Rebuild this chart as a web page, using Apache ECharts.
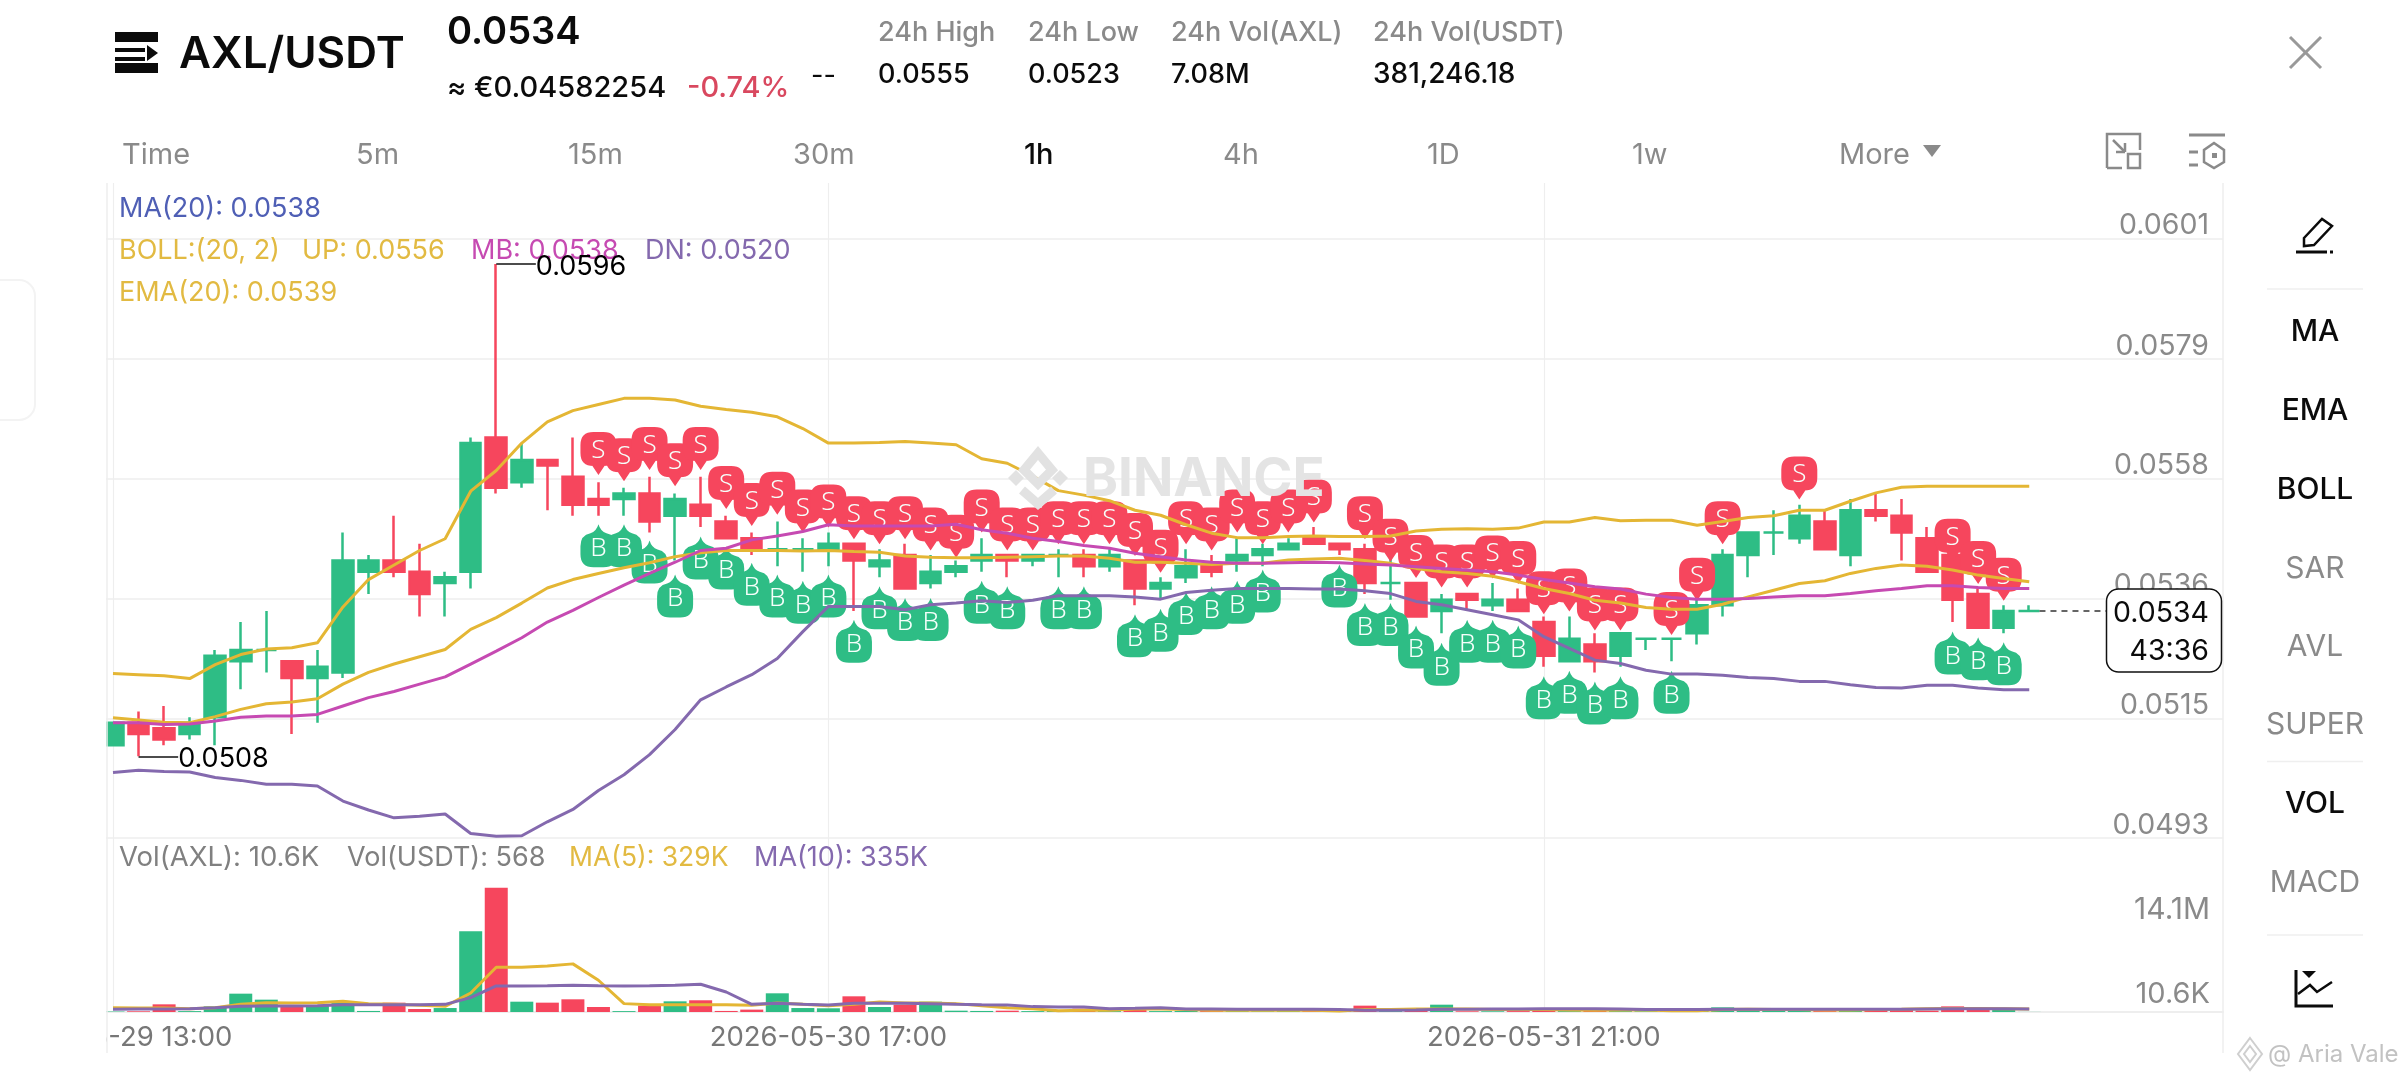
<!DOCTYPE html>
<html><head><meta charset="utf-8">
<style>html,body{margin:0;padding:0;background:#fff}#c{width:2400px;height:1080px}</style>
<script src="https://cdn.jsdelivr.net/npm/echarts@6/dist/echarts.min.js"></script>
</head><body><div id="c"></div>
<script>
const timeTicks=[0,28,56];
const timeLabels=['2026-05-29 13:00','2026-05-30 17:00','2026-05-31 21:00'];
const priceTicks=[0.04934,0.05148,0.05362,0.05576,0.05790,0.06006];
const volTicks=[0.0106,14.1];
const opens=[.0510,.0514,.0513,.0512,.0515,.0525,.0527,.0525,.0522,.0523,
.0541,.0543,.0541,.0539,.0541,.0565,.0557,.0561,.0558,.0554,
.0554,.0555,.0551,.0553,.0550,.0547,.0545,.0545,.0545,.0546,
.0542,.0544,.0539,.0541,.0543,.0544,.0543,.0544,.0544,.0542,
.0543,.0538,.0540,.0542,.0543,.0544,.0545,.0547,.0546,.0545,
.0539,.0539,.0534,.0537,.0535,.0536,.0532,.0525,.0528,.0526,
.0529,.0529,.0530,.0535,.0544,.0548,.0547,.0550,.0544,.0552,
.0551,.0547,.0544,.0537,.0531,.0534];
const closes=[.0514,.0512,.0511,.0514,.0526,.0527,.0527,.0522,.0524,.0543,
.0543,.0541,.0537,.0540,.0564,.0556,.0561,.0560,.0553,.0553,
.0555,.0550,.0554,.0551,.0547,.0545,.0545,.0545,.0546,.0543,
.0543,.0538,.0541,.0542,.0544,.0543,.0544,.0544,.0542,.0544,
.0538,.0539,.0542,.0541,.0544,.0545,.0546,.0546,.0545,.0539,
.0539,.0533,.0536,.0536,.0536,.0534,.0526,.0529,.0525,.0530,
.0529,.0529,.0535,.0544,.0548,.0548,.0551,.0545,.0552,.0551,
.0548,.0541,.0536,.0531,.0534,.0534];
const lows=[.0510,.0508,.0510,.0511,.0510,.0520,.0523,.0512,.0514,.0522,
.0537,.0540,.0533,.0533,.0538,.0555,.0556,.0552,.0551,.0551,
.0551,.0548,.0543,.0549,.0547,.0544,.0542,.0541,.0542,.0534,
.0540,.0538,.0538,.0540,.0541,.0540,.0542,.0540,.0540,.0541,
.0535,.0536,.0539,.0540,.0541,.0542,.0545,.0546,.0544,.0537,
.0536,.0533,.0530,.0534,.0534,.0534,.0524,.0525,.0523,.0524,
.0527,.0525,.0528,.0533,.0540,.0544,.0546,.0545,.0542,.0550,
.0543,.0541,.0532,.0531,.0530,.0534];
const highs=[.0514,.0516,.0517,.0515,.0527,.0532,.0534,.0525,.0527,.0548,
.0544,.0551,.0546,.0541,.0565,.0596,.0564,.0561,.0565,.0557,
.0556,.0558,.0555,.0558,.0551,.0548,.0550,.0547,.0548,.0546,
.0545,.0546,.0544,.0543,.0547,.0544,.0544,.0545,.0545,.0545,
.0543,.0540,.0545,.0544,.0547,.0546,.0547,.0549,.0546,.0546,
.0544,.0539,.0537,.0537,.0539,.0538,.0533,.0533,.0530,.0530,
.0529,.0529,.0537,.0545,.0548,.0552,.0553,.0552,.0554,.0555,
.0554,.0549,.0547,.0538,.0535,.0535];
const bollUp=[.05228,.05226,.05224,.05219,.05244,.05262,.05272,.05274,.05283,.05347,
.05396,.05422,.05448,.05469,.05554,.05591,.05640,.05678,.05698,.05709,
.05720,.05720,.05717,.05706,.05700,.05695,.05687,.05666,.05640,.05640,
.05641,.05643,.05640,.05637,.05612,.05604,.05581,.05555,.05547,.05537,
.05520,.05511,.05494,.05479,.05471,.05471,.05473,.05474,.05473,.05473,
.05474,.05483,.05486,.05487,.05486,.05488,.05499,.05499,.05507,.05501,
.05502,.05502,.05493,.05500,.05507,.05510,.05520,.05520,.05536,.05551,
.05561,.05563,.05563,.05563,.05563,.05563];
const ema20=[.05149,.05145,.05141,.05140,.05151,.05164,.05174,.05177,.05183,.05209,
.05230,.05245,.05258,.05271,.05307,.05328,.05354,.05381,.05396,.05407,
.05417,.05426,.05437,.05444,.05448,.05448,.05448,.05447,.05448,.05446,
.05445,.05438,.05436,.05435,.05435,.05436,.05437,.05438,.05438,.05434,
.05427,.05427,.05425,.05423,.05425,.05425,.05431,.05433,.05434,.05430,
.05425,.05416,.05410,.05407,.05402,.05392,.05380,.05371,.05359,.05354,
.05346,.05343,.05343,.05352,.05365,.05377,.05389,.05394,.05407,.05416,
.05422,.05420,.05413,.05404,.05398,.05392];
const bollMb=[.05140,.05140,.05137,.05138,.05143,.05150,.05152,.05152,.05155,.05170,
.05185,.05196,.05209,.05222,.05245,.05268,.05292,.05320,.05341,.05364,
.05386,.05407,.05427,.05448,.05452,.05467,.05474,.05482,.05494,.05492,
.05492,.05492,.05492,.05495,.05485,.05479,.05470,.05464,.05457,.05452,
.05443,.05437,.05431,.05427,.05425,.05425,.05426,.05427,.05426,.05424,
.05422,.05419,.05416,.05413,.05410,.05404,.05396,.05390,.05383,.05379,
.05370,.05364,.05361,.05361,.05362,.05365,.05367,.05367,.05371,.05376,
.05380,.05385,.05385,.05382,.05380,.05380];
const bollDn=[.05051,.05055,.05053,.05052,.05042,.05037,.05030,.05030,.05027,.05000,
.04984,.04970,.04973,.04977,.04942,.04937,.04938,.04963,.04985,.05019,
.05047,.05083,.05128,.05181,.05204,.05226,.05255,.05303,.05348,.05348,
.05348,.05342,.05351,.05354,.05358,.05355,.05359,.05367,.05367,.05367,
.05365,.05361,.05373,.05377,.05380,.05380,.05380,.05379,.05379,.05376,
.05371,.05357,.05351,.05342,.05333,.05324,.05294,.05273,.05252,.05246,
.05234,.05227,.05227,.05225,.05221,.05219,.05214,.05214,.05208,.05203,
.05202,.05207,.05207,.05202,.05199,.05199];
const volumes=[.05,.08,.87,.10,.64,2.08,1.40,.76,.76,1.14,
.12,1.06,.34,.45,9.17,14.1,1.17,1.06,1.44,.57,
.10,.72,1.21,1.33,.12,.27,2.12,.45,.42,1.78,
.57,.83,1.17,.15,.12,.15,.10,.12,.38,.10,
.57,.10,.12,.10,.10,.08,.10,.10,.10,.72,
.10,.15,.83,.08,.08,.10,.34,.10,.19,.10,
.08,.08,.10,.53,.15,.19,.19,.10,.34,.34,
.34,.15,.64,.45,.34,.0106];
const volMa5=[.49,.45,.45,.38,.49,.87,1.06,1.02,1.06,1.21,
.95,.87,.76,.64,2.16,5.08,5.08,5.23,5.46,3.60,
.95,.83,.83,.83,.83,.76,1.02,.87,.72,.87,
1.14,1.02,1.02,.95,.72,.49,.38,.15,.19,.19,
.34,.34,.27,.19,.19,.19,.19,.19,.11,.27,
.27,.34,.34,.34,.27,.27,.27,.23,.19,.23,
.23,.15,.15,.27,.30,.27,.27,.23,.23,.27,
.30,.38,.41,.41,.38,.33];
const volMa10=[.30,.34,.34,.38,.49,.64,.68,.68,.72,.83,
.83,.83,.83,.87,1.63,2.96,2.96,2.99,3.03,2.99,
2.96,2.99,3.03,3.15,2.27,.87,.99,.87,.80,.99,
.99,.99,.95,.87,.83,.80,.61,.57,.57,.38,
.42,.49,.34,.34,.30,.30,.30,.30,.27,.19,
.19,.23,.30,.30,.34,.34,.38,.38,.38,.34,
.27,.27,.27,.30,.30,.30,.30,.30,.30,.30,
.30,.34,.38,.38,.38,.335];
const sellIdx=[19,20,21,22,23,24,25,26,27,28,29,30,31,32,33,34,35,36,37,38,39,40,41,42,43,44,45,46,47,49,50,51,52,53,54,55,56,57,58,59,61,62,63,66,72,73,74];
const sellAt=[.05583,.05572,.05592,.05563,.05592,.05522,.05492,.05512,.05480,.05489,.05468,.05459,.05468,.05448,.05435,.05480,.05448,.05448,.05459,.05459,.05459,.05438,.05408,.05459,.05448,.05480,.05459,.05480,.05498,.05468,.05428,.05399,.05382,.05382,.05398,.05388,.05334,.05339,.05305,.05305,.05297,.05358,.05459,.05539,.05428,.05388,.05358];
const buyIdx=[19,20,21,22,23,24,25,26,27,28,29,30,31,32,34,35,37,38,40,41,42,43,44,45,48,49,50,51,52,53,54,55,56,57,58,59,61,72,73,74];
const buyAt=[.05495,.05495,.05466,.05405,.05473,.05455,.05426,.05405,.05394,.05405,.05324,.05384,.05363,.05363,.05394,.05384,.05384,.05384,.05334,.05344,.05374,.05384,.05394,.05414,.05423,.05354,.05354,.05314,.05283,.05324,.05324,.05314,.05223,.05233,.05214,.05223,.05233,.05303,.05293,.05284];
const lastPrice=0.0534, highPrice=0.0596, lowPrice=0.0508, highIdx=15, lowIdx=1;

const GREEN='#2EBD85',RED='#F6465D',YEL='#E4B634',LEG='#E2BA42',MAG='#C64AB2',PUR='#8469AE',GRID='#EEEEEE';
const FONT='Inter, "Liberation Sans", sans-serif';
const pair=a=>a.map((v,i)=>[i,v]);
const xMin=(106-113)/25.55, xMax=(2223-113)/25.55;
const SPIN='path://M13 0H23Q36 0 36 13V21Q36 34 23 34H24L18 43L12 34H13Q0 34 0 21V13Q0 0 13 0Z';
const BPIN='path://M18 0Q20 7 26 9Q36 11 36 22V30Q36 43 23 43H13Q0 43 0 30V22Q0 11 10 9Q16 7 18 0Z';

function T(x,y,text,size,fill,o={}){return {type:'text',z:o.z||50,style:{x,y,text,fill,
  font:(o.w||400)+' '+size+'px '+FONT,textAlign:o.a||'left',textVerticalAlign:'middle',align:o.a||'left',verticalAlign:'middle'}};}
function L(x1,y1,x2,y2,c,w,z){return {type:'line',z:z||50,shape:{x1,y1,x2,y2},style:{stroke:c,lineWidth:w}};}
function R(x,y,w,h,c,z){return {type:'rect',z:z||50,shape:{x,y,width:w,height:h},style:{fill:c}};}
function P(pts,o){return {type:o.closed?'polygon':'polyline',z:o.z||50,shape:{points:pts},style:{stroke:o.s||null,fill:o.f||null,lineWidth:o.w||2.5}};}
const G='#8A8A8A',K='#0B0B0B';
const gfx=[
 // header
 R(115,32,43,10,K),R(115,63,43,10,K),R(115,48,30,4,K),R(115,57,30,4,K),P([[147,45],[158,53],[147,61]],{closed:true,f:K,w:0}),
 T(179,55,'AXL/USDT',44,K,{w:600}),
 T(447,33,'0.0534',38,K,{w:600}),
 T(447,88,'≈ €0.04582254',29,K,{w:500}),
 T(687,88,'-0.74%',29,'#D9485F',{w:500}),
 T(811,76,'--',27,K),
 T(878,33,'24h High',27,G,{w:500}),T(878,75,'0.0555',27,K,{w:500}),
 T(1028,33,'24h Low',27,G,{w:500}),T(1028,75,'0.0523',27,K,{w:500}),
 T(1171,33,'24h Vol(AXL)',27,G,{w:500}),T(1171,75,'7.08M',27,K,{w:500}),
 T(1373,33,'24h Vol(USDT)',27,G,{w:500}),T(1373,75,'381,246.18',28,K,{w:500}),
 L(2290,37,2321,68,'#999',3),L(2321,37,2290,68,'#999',3),
 // tabs
 T(122,155,'Time',29,G),T(356,155,'5m',29,G),T(568,155,'15m',29,G),T(793,155,'30m',29,G),
 T(1024,155,'1h',29,K,{w:500}),T(1223,155,'4h',29,G),T(1427,155,'1D',29,G),T(1632,155,'1w',29,G),T(1839,155,'More',29,G),
 P([[1923,145],[1941,145],[1932,157]],{closed:true,f:G,w:0}),
 // tool icons
 P([[2107,168],[2107,134],[2140,134],[2140,150]],{s:G,w:2.5}),P([[2107,168],[2122,168]],{s:G}),
 {type:'rect',z:50,shape:{x:2128,y:154,width:12,height:14},style:{stroke:G,fill:null,lineWidth:2.5}},
 L(2113,140,2125,152,G,2.5),L(2125,152,2125,143,G,2.5),L(2125,152,2116,152,G,2.5),
 L(2189,135,2225,135,G,3),L(2189,152,2198,152,G,3),L(2189,165,2198,165,G,3),
 P([[2214,143],[2224,150],[2224,162],[2214,168],[2204,162],[2204,150]],{closed:true,s:G}),R(2212,153,5,5,G),
 // legends
 T(119,209,'MA(20): 0.0538',27,'#4F5FB5'),
 T(119,251,'BOLL:(20, 2)',27,LEG),T(302,251,'UP: 0.0556',27,LEG),T(471,251,'MB: 0.0538',27,MAG,{z:1}),T(645,251,'DN: 0.0520',27,PUR),
 T(119,293,'EMA(20): 0.0539',27,LEG),
 T(119,858,'Vol(AXL): 10.6K',27.5,'#808080'),T(347,858,'Vol(USDT): 568',27,'#808080'),T(569,858,'MA(5): 329K',26.5,LEG),T(754,858,'MA(10): 335K',27,PUR),
 // watermark
 P([[1038,453],[1052,470],[1038,484],[1024,470]],{closed:true,s:'#E2E2E2',w:9,z:0}),
 P([[1008,478],[1016,470],[1024,478],[1016,486]],{closed:true,f:'#E2E2E2',w:0,z:0}),
 P([[1052,478],[1060,470],[1068,478],[1060,486]],{closed:true,f:'#E2E2E2',w:0,z:0}),
 P([[1022,490],[1038,504],[1054,490]],{s:'#E2E2E2',w:9,z:0}),
 T(1083,480,'BINANCE',53,'#E4E4E4',{w:700,z:0}),
 // borders and left clip
 R(0,1015,106,45,'#fff',40),R(88,183,18,850,'#fff',40),
 L(107,183,107,1053,GRID,1.5,41),L(2223,183,2223,1053,GRID,1.5,41),
 {type:'rect',z:1,shape:{x:-30,y:280,width:65,height:140,r:16},style:{stroke:'#F3F3F3',fill:null,lineWidth:2}},
 // price box
 {type:'rect',z:45,shape:{x:2106.5,y:589,width:115,height:83,r:12},style:{fill:'#fff',stroke:'#111',lineWidth:1.5}},
 T(2209,613,'0.0534',28.5,K,{a:'right'}),T(2209,651,'43:36',28.5,K,{a:'right'}),
 // side bar
 P([[2304,238],[2322,219],[2332,226],[2314,245],[2304,246]],{closed:true,s:K}),L(2296,252,2327,252,K,3),L(2330,252,2333,252,K,3),
 L(2267,289,2363,289,'#EFEFEF',1.5),L(2267,761.5,2363,761.5,'#EFEFEF',1.5),L(2267,935,2363,935,'#EFEFEF',1.5),
 T(2315,332,'MA',30,K,{a:'center',w:500}),T(2315,411,'EMA',30,K,{a:'center',w:500}),T(2315,490,'BOLL',30,K,{a:'center',w:500}),
 T(2315,569,'SAR',30,G,{a:'center'}),T(2315,647,'AVL',30,G,{a:'center'}),T(2315,725,'SUPER',30,G,{a:'center'}),
 T(2315,804,'VOL',30,K,{a:'center',w:500}),T(2315,883,'MACD',30,G,{a:'center'}),
 P([[2296,970],[2296,1006],[2333,1006]],{s:K,w:3}),P([[2298,994],[2310,985],[2317,992],[2332,982]],{s:K,w:2.5}),P([[2302,971],[2316,971],[2309,978]],{closed:true,f:K,w:0}),
 // credit
 P([[2250,1038],[2262,1054],[2250,1070],[2238,1054]],{closed:true,s:'#CFCFCF',w:2}),
 P([[2250,1046],[2256,1054],[2250,1062],[2244,1054]],{closed:true,s:'#CFCFCF',w:2}),
 T(2268,1055,'@ Aria Vale',24,'#C2C2C2')
];
function flag(idx,at,pin,off,color,ch,dy){return {type:'scatter',xAxisIndex:0,yAxisIndex:0,z:3,animation:false,silent:true,
  data:idx.map((k,i)=>[k,at[i]]),symbol:pin,symbolSize:[36,43],symbolOffset:[0,off],
  itemStyle:{color,opacity:1},label:{show:true,position:'inside',offset:[0,dy],formatter:ch,color:'#F6FFFB',fontFamily:'"Noto Sans", sans-serif',fontWeight:300,fontSize:26},
  clip:false};}
function line(name,a,c,xi,w,z){return {type:'line',name,xAxisIndex:xi,yAxisIndex:xi,data:pair(a),showSymbol:false,symbol:'none',z:z||4,animation:false,silent:true,lineStyle:{color:c,width:w||3}};}
const mark=(i,v,dx,txt)=>[{coord:[i,v],lineStyle:{color:'#111',width:1.5,type:'solid'},label:{show:!!txt,position:'end',formatter:txt||'',distance:0,offset:[0,3],color:'#000',fontFamily:FONT,fontSize:27}},{coord:[i+dx,v]}];
const chart=echarts.init(document.getElementById('c'),null,{renderer:'canvas'});
const xCommon={type:'value',min:xMin,max:xMax,axisTick:{show:false,customValues:timeTicks},splitLine:{show:true,lineStyle:{color:GRID,width:1.2}}};
chart.setOption({
 animation:false,backgroundColor:'#fff',textStyle:{fontFamily:FONT},
 grid:[{left:106,top:183,width:2117,height:655,outerBoundsMode:'none'},{left:106,top:838,width:2117,height:174,outerBoundsMode:'none'}],
 xAxis:[
  Object.assign({},xCommon,{gridIndex:0,axisLine:{show:false},axisLabel:{show:false,customValues:timeTicks}}),
  Object.assign({},xCommon,{gridIndex:1,axisLine:{show:true,onZero:false,lineStyle:{color:GRID,width:2}},
    axisLabel:{show:true,customValues:timeTicks,margin:12,color:'#777',fontSize:27.5,fontFamily:FONT,hideOverlap:false,
      formatter:v=>timeLabels[timeTicks.indexOf(Math.round(v))]||''}})
 ],
 yAxis:[
  {type:'value',gridIndex:0,position:'right',min:priceTicks[0],max:0.06105,axisLine:{show:false},
   axisTick:{show:false,customValues:priceTicks},splitLine:{show:true,lineStyle:{color:GRID,width:1.5}},
   axisLabel:{inside:true,verticalAlign:'bottom',margin:14,lineHeight:26,customValues:priceTicks,color:G,fontSize:28.5,fontFamily:FONT,formatter:v=>v.toFixed(4)}},
  {type:'value',gridIndex:1,position:'right',min:0,max:19.74,axisLine:{show:false},
   axisTick:{show:false,customValues:volTicks},splitLine:{show:false},
   axisLabel:{inside:true,margin:13,customValues:volTicks,color:G,fontSize:30,fontFamily:FONT,
     formatter:v=>v<1?'{b|10.6K}':'{a|14.1M}',
     rich:{a:{padding:[45,0,0,0],color:G,fontSize:30,fontFamily:FONT},b:{padding:[0,0,36,0],color:G,fontSize:29,fontFamily:FONT}}}}
 ],
 series:[
  {type:'candlestick',xAxisIndex:0,yAxisIndex:0,z:2,animation:false,silent:true,barWidth:21,
   encode:{x:0,y:[1,2,3,4]},
   data:opens.map((o,i)=>[i,o,closes[i],lows[i],highs[i]]),
   itemStyle:{color:GREEN,color0:RED,borderColor:GREEN,borderColor0:RED,borderColorDoji:GREEN,borderWidth:2.5},
   markLine:{silent:true,symbol:'none',animation:false,z:6,data:[
     mark(highIdx,highPrice,1.55,String(highPrice)),
     mark(lowIdx,lowPrice,1.55,String(lowPrice)),
     [{coord:[75.4,lastPrice],lineStyle:{color:'#333',width:1.5,type:[6,5]},label:{show:false}},{coord:[78.05,lastPrice]}]
   ]}},
  flag(sellIdx,sellAt,SPIN,-21.5,RED,'S',-3),
  flag(buyIdx,buyAt,BPIN,21.5,GREEN,'B',3),
  line('UP',bollUp,YEL,0),line('EMA(20)',ema20,YEL,0),line('MB',bollMb,MAG,0),line('DN',bollDn,PUR,0),
  {type:'custom',xAxisIndex:1,yAxisIndex:1,z:2,animation:false,silent:true,encode:{x:0,y:1},
   data:volumes.map((v,i)=>[i,v,closes[i]<opens[i]?1:0]),
   renderItem:(params,api)=>{const top=api.coord([api.value(0),api.value(1)]),base=api.coord([api.value(0),0]);
     return {type:'rect',shape:{x:top[0]-11.5,y:top[1],width:23,height:base[1]-top[1]},style:{fill:api.value(2)?RED:GREEN}};}},
  line('MA(5)',volMa5,YEL,1,3,4),line('MA(10)',volMa10,PUR,1,3,5)
 ],
 graphic:{elements:gfx}
});
</script></body></html>
